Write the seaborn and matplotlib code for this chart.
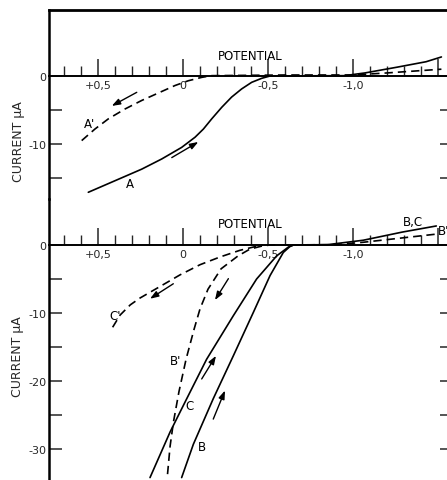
import numpy as np
import pandas as pd
import matplotlib
matplotlib.use("Agg")
import matplotlib.pyplot as plt
import seaborn as sns

# ---------------- data (potential V, current uA) ----------------
A_pot = [0.557, 0.40, 0.243, 0.125, 0.008, -0.071, -0.12, -0.169, -0.228, -0.286,
         -0.345, -0.404, -0.463, -0.512, -0.95, -1.07, -1.26, -1.43, -1.52]
A_cur = [-17.1, -15.4, -13.7, -12.2, -10.5, -9.0, -7.8, -6.3, -4.6, -3.1,
         -1.9, -0.93, -0.34, 0.0, 0.05, 0.45, 1.3, 2.1, 2.8]

Ap_pot = [0.596, 0.518, 0.439, 0.341, 0.243, 0.145, 0.047, -0.031, -0.11, -0.169,
          -0.6, -1.0, -1.2, -1.52]
Ap_cur = [-9.5, -7.8, -6.3, -4.85, -3.6, -2.5, -1.4, -0.7, -0.2, 0.05,
          0.15, 0.15, 0.45, 1.0]

B_pot = [0.008, -0.061, -0.178, -0.296, -0.414, -0.512, -0.59, -0.63, -0.65,
         -0.85, -1.06, -1.29, -1.49]
B_cur = [-34.2, -29.3, -22.6, -16.3, -9.9, -4.5, -1.1, -0.2, 0.0,
         0.05, 0.7, 1.9, 2.8]

C_pot = [0.194, 0.076, -0.022, -0.139, -0.296, -0.433, -0.551, -0.62, -0.65]
C_cur = [-34.2, -27.5, -22.6, -16.8, -10.4, -5.0, -1.6, -0.3, 0.0]

Bp_pot = [0.091, 0.076, 0.056, 0.024, -0.018, -0.065, -0.10, -0.147, -0.224,
          -0.324, -0.394, -0.465, -0.512, -0.9, -1.06, -1.49]
Bp_cur = [-33.7, -29.6, -26.0, -21.6, -16.8, -12.4, -9.4, -6.5, -3.5,
          -1.6, -0.6, -0.15, 0.0, 0.05, 0.4, 1.6]

Cp_pot = [0.414, 0.37, 0.31, 0.253, 0.135, 0.018, -0.10, -0.218, -0.335, -0.414, -0.47]
Cp_cur = [-12.1, -10.3, -8.8, -7.8, -6.1, -4.4, -2.9, -1.76, -0.78, -0.3, 0.0]

# direction arrows: (tail V, tail I, head V, head I)
arrows_top = [(0.272, -2.4, 0.419, -4.4), (0.066, -12.0, -0.09, -9.7)]
arrows_bot = [(0.057, -5.7, 0.194, -7.9), (-0.267, -4.95, -0.188, -8.1),
              (-0.11, -19.7, -0.194, -16.3), (-0.178, -25.6, -0.247, -21.4)]

xtick_vals = [0.5, 0.0, -0.5, -1.0, -1.5]
xtick_labels = ["+0,5", "0", "-0,5", "-1,0", ""]
top_ytick_vals = [0, -10]
top_ytick_labels = ["0", "-10"]
bot_ytick_vals = [0, -10, -20, -30]
bot_ytick_labels = ["0", "-10", "-20", "-30"]

# ---------------- figure ----------------
sns.set_style("white")
plt.rcParams["font.family"] = ["DejaVu Sans"]

W, H = 447, 481
fig = plt.figure(figsize=(W / 100, H / 100), dpi=100)

def px_axes(l, r, t, b):
    return fig.add_axes([l / W, 1 - b / H, (r - l) / W, (b - t) / H])

# pixel geometry: x_px = 183 - 170*V ; 6.8 px per uA
x_left, x_right = 49, 452
xlim = ((183 - x_left) / 170, (183 - x_right) / 170)

ax1 = px_axes(x_left, x_right, 11, 200)
ax2 = px_axes(x_left, x_right, 200, 490)
ax1.set_ylim((77 - 200) / 6.8, (77 - 11) / 6.8)
ax2.set_ylim((246 - 490) / 6.8, (246 - 200) / 6.8)

for ax in (ax1, ax2):
    ax.set_xlim(*xlim)
    ax.set_facecolor("none")
    ax.patch.set_alpha(0)
    ax.spines["left"].set_linewidth(1.8)
    ax.spines["left"].set_color("black")
    ax.spines["bottom"].set_position(("data", 0))
    ax.spines["bottom"].set_linewidth(1.4)
    ax.spines["bottom"].set_color("black")
    ax.spines["right"].set_visible(False)
    ax.set_xticks(xtick_vals)
    ax.set_xticklabels(xtick_labels)
    ax.set_xticks(np.arange(-15, 8) / 10, minor=True)
    ax.tick_params(axis="x", which="major", direction="in", length=12, width=1.1,
                   pad=3, labelsize=8, bottom=True, top=False)
    ax.tick_params(axis="x", which="minor", direction="in", length=7, width=1.0,
                   bottom=True, top=False)
    ax.tick_params(axis="y", which="both", direction="in", width=1.1,
                   left=True, right=True, pad=2, labelsize=8)
    ax.tick_params(axis="y", which="major", length=9)
    ax.tick_params(axis="y", which="minor", length=9)

ax1.spines["top"].set_linewidth(2.0)
ax1.spines["top"].set_color("black")
ax2.spines["top"].set_visible(False)

ax1.set_yticks(top_ytick_vals)
ax1.set_yticklabels(top_ytick_labels)
ax1.set_yticks([-5, -15], minor=True)
ax2.set_yticks(bot_ytick_vals)
ax2.set_yticklabels(bot_ytick_labels)
ax2.set_yticks([-5, -15, -25], minor=True)

dash = (0, (5, 3))

def curve(ax, v, i, ls):
    df = pd.DataFrame({"Potential": v, "Current": i})
    sns.lineplot(data=df, x="Potential", y="Current", sort=False, estimator=None,
                 color="black", linewidth=1.2, linestyle=ls, ax=ax)

curve(ax1, A_pot, A_cur, "-")
curve(ax1, Ap_pot, Ap_cur, dash)
curve(ax2, B_pot, B_cur, "-")
curve(ax2, C_pot, C_cur, "-")
curve(ax2, Bp_pot, Bp_cur, dash)
curve(ax2, Cp_pot, Cp_cur, dash)

for ax, arrs in ((ax1, arrows_top), (ax2, arrows_bot)):
    for tv, ti, hv, hi in arrs:
        ax.annotate("", xy=(hv, hi), xytext=(tv, ti),
                    arrowprops=dict(arrowstyle="-|>,head_length=0.5,head_width=0.18",
                                    color="black", lw=1.0, shrinkA=0, shrinkB=0))
    ax.set_xlabel("")
    ax.set_ylabel("")

# labels (pixel-based placement converted to data)
def V(px):
    return (183 - px) / 170

def I1(py):
    return (77 - py) / 6.8

def I2(py):
    return (246 - py) / 6.8

tk = dict(fontsize=8.5, ha="center", va="center", color="black")
ax1.text(V(250), I1(57), "POTENTIAL", **tk)
ax2.text(V(250), I2(225), "POTENTIAL", **tk)
ax1.text(V(90), I1(124), "A'", **tk)
ax1.text(V(130), I1(185), "A", **tk)
ax2.text(V(115), I2(317), "C'", **tk)
ax2.text(V(176), I2(362), "B'", **tk)
ax2.text(V(190), I2(407), "C", **tk)
ax2.text(V(202), I2(448), "B", **tk)
ax2.text(V(413), I2(223), "B,C", **tk)
ax2.text(V(438), I2(232), "B'", fontsize=8.5, ha="left", va="center", color="black")

fig.text(19 / W, 1 - 142 / H, "CURRENT µA", rotation=90, ha="center", va="center",
         fontsize=9)
fig.text(18 / W, 1 - 357 / H, "CURRENT µA", rotation=90, ha="center", va="center",
         fontsize=9)

fig.savefig("out.png", dpi=100)
